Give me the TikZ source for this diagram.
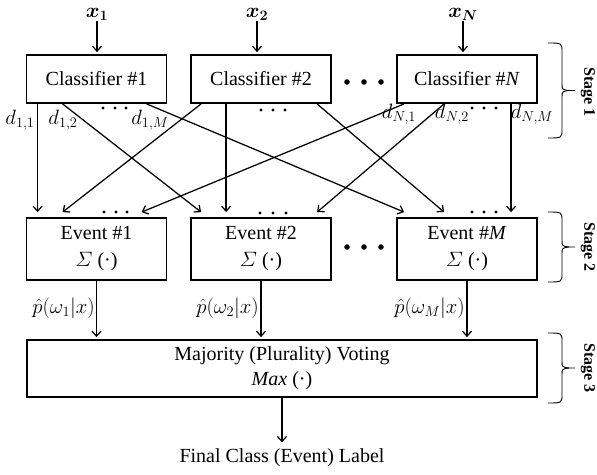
\documentclass[tikz,border=0pt]{standalone}
\usepackage{amsmath}
\usepackage{fontspec}
\setmainfont{Liberation Serif}
\usetikzlibrary{arrows.meta,calc}

% curly bracket on the right-hand side: #1 top, #2 bottom
\newcommand\stgbrace[2]{%
  \pgfmathsetmacro\bmid{(#1+#2)/2}%
  \draw[bracepen] (548,#1) .. controls (562,#1) .. (562,#1+9) -- (562,\bmid-7)
    .. controls (562,\bmid-1) .. (569,\bmid) -- (575,\bmid);
  \draw[bracepen] (548,#2) .. controls (562,#2) .. (562,#2-9) -- (562,\bmid+7)
    .. controls (562,\bmid+1) .. (569,\bmid);
}

\begin{document}
\begin{tikzpicture}[x=1pt,y=-1pt,
  every node/.style={font=\fontsize{20}{27}\selectfont},
  box/.style={draw,line width=1.8pt,inner sep=0pt,minimum width=140pt,align=center},
  clsbox/.style={box,minimum height=48pt},
  evbox/.style={box,minimum height=62pt},
  arr/.style={-{Straight Barb[length=5pt,width=9pt]},line width=1.25pt},
  lab/.style={inner sep=0pt,anchor=base},
  stg/.style={font=\fontsize{16}{18}\selectfont\bfseries,rotate=-90,inner sep=0pt},
  bracepen/.style={line width=0.9pt},
  bigdot/.style={fill=black},
]
\useasboundingbox (0,0) rectangle (597,474);

% stage 1: classifiers
\node[clsbox] (c1) at (96.5,79) {Classifier \#1};
\node[clsbox] (c2) at (261,79) {Classifier \#2};
\node[clsbox] (cn) at (467,79) {Classifier \#\textit{N}};

% inputs
\node[inner sep=1pt] (x1) at (97,14) {$\boldsymbol{x_1}$};
\node[inner sep=1pt] (x2) at (257,14) {$\boldsymbol{x_2}$};
\node[inner sep=1pt] (xn) at (463,14) {$\boldsymbol{x_N}$};
\draw[arr,shorten >=2pt] (x1) -- (x1 |- c1.north);
\draw[arr,shorten >=2pt] (x2) -- (x2 |- c2.north);
\draw[arr,shorten >=2pt] (xn) -- (xn |- cn.north);

% stage 2: events
\node[evbox] (e1) at (96.5,249) {Event \#1\\$\varSigma$ (·)};
\node[evbox] (e2) at (261,249) {Event \#2\\$\varSigma$ (·)};
\node[evbox] (em) at (467,249) {Event \#\textit{M}\\$\varSigma$ (·)};

% stage 3: voting
\node[box,minimum width=510pt,minimum height=57pt,
      font=\fontsize{20}{25}\selectfont] (maj) at (282,368.5)
      {Majority (Plurality) Voting\\\textit{Max} (·)};
\node (out) at (282,458) {Final Class (Event) Label};

% decision ports on the classifiers
\coordinate (c1a) at ([xshift=12pt]c1.south west);
\coordinate (c1b) at ([xshift=37pt]c1.south west);
\coordinate (c1c) at ([xshift=121pt]c1.south west);
\coordinate (c2a) at ([xshift=11pt]c2.south west);
\coordinate (c2b) at ([xshift=36pt]c2.south west);
\coordinate (c2c) at ([xshift=127pt]c2.south west);
\coordinate (cna) at ([xshift=8pt]cn.south west);
\coordinate (cnb) at ([xshift=48pt]cn.south west);
\coordinate (cnc) at ([xshift=115pt]cn.south west);
% inputs of the events
\coordinate (e1a) at ([xshift=12pt,yshift=5pt]e1.north west);
\coordinate (e1b) at ([xshift=37pt,yshift=5pt]e1.north west);
\coordinate (e1c) at ([xshift=116pt,yshift=5pt]e1.north west);
\coordinate (e2a) at ([xshift=11pt,yshift=5pt]e2.north west);
\coordinate (e2b) at ([xshift=36pt,yshift=5pt]e2.north west);
\coordinate (e2c) at ([xshift=127pt,yshift=5pt]e2.north west);
\coordinate (ema) at ([xshift=8pt,yshift=5pt]em.north west);
\coordinate (emb) at ([xshift=48pt,yshift=5pt]em.north west);
\coordinate (emc) at ([xshift=115pt,yshift=5pt]em.north west);

\draw[arr] (c1a) -- (e1a);
\draw[arr] (c1b) -- (e2a);
\draw[arr] (c1c) -- (ema);
\draw[arr] (c2a) -- (e1b);
\draw[arr] (c2b) -- (e2b);
\draw[arr] (c2c) -- (emb);
\draw[arr] (cna) -- (e1c);
\draw[arr] (cnb) -- (e2c);
\draw[arr] (cnc) -- (emc);

% decision labels
\node[lab] (d11) at (20,124) {$d_{1,1}$};
\node[lab] (d12) at (63,124) {$d_{1,2}$};
\node[lab] (d1m) at (150,124) {$d_{1,M}$};
\node[lab] (dn1) at (399,118) {$d_{N,1}$};
\node[lab] (dn2) at (452,118) {$d_{N,2}$};
\node[lab] (dnm) at (532,118) {$d_{N,M}$};

% event outputs
\draw[arr,shorten >=2pt] (e1.south) -- (e1.south |- maj.north);
\draw[arr,shorten >=2pt] (e2.south) -- (e2.south |- maj.north);
\draw[arr,shorten >=2pt] (em.south) -- (em.south |- maj.north);
\node[lab,anchor=base east] (p1) at (95,313) {$\hat{p}(\omega_1|x)$};
\node[lab,anchor=base east] (p2) at (259,313) {$\hat{p}(\omega_2|x)$};
\node[lab,anchor=base east] (pm) at (465,313) {$\hat{p}(\omega_M|x)$};

\draw[arr,shorten >=3pt] (maj.south) -- (out.north);

% ellipses between boxes
\foreach \x in {347,364,381} {
  \fill[bigdot] (\x,82) circle (2.8);
  \fill[bigdot] (\x,247) circle (2.8);
}
% ellipses between ports
\foreach \x in {103,115,126} \fill (\x,108) circle (1.7);
\foreach \x in {261,273,285} \fill (\x,110) circle (1.7);
\foreach \x in {472,484,496} \fill (\x,108) circle (1.7);
\foreach \x in {104,116,127} \fill (\x,212) circle (1.7);
\foreach \x in {260,273,286} \fill (\x,213) circle (1.7);
\foreach \x in {472,484,496} \fill (\x,212) circle (1.7);

% stages
\stgbrace{43}{138}
\stgbrace{212}{282}
\stgbrace{333}{403}
\node[stg] (s1) at (588,92) {Stage 1};
\node[stg] (s2) at (588,247) {Stage 2};
\node[stg] (s3) at (588,368) {Stage 3};
\end{tikzpicture}
\end{document}
